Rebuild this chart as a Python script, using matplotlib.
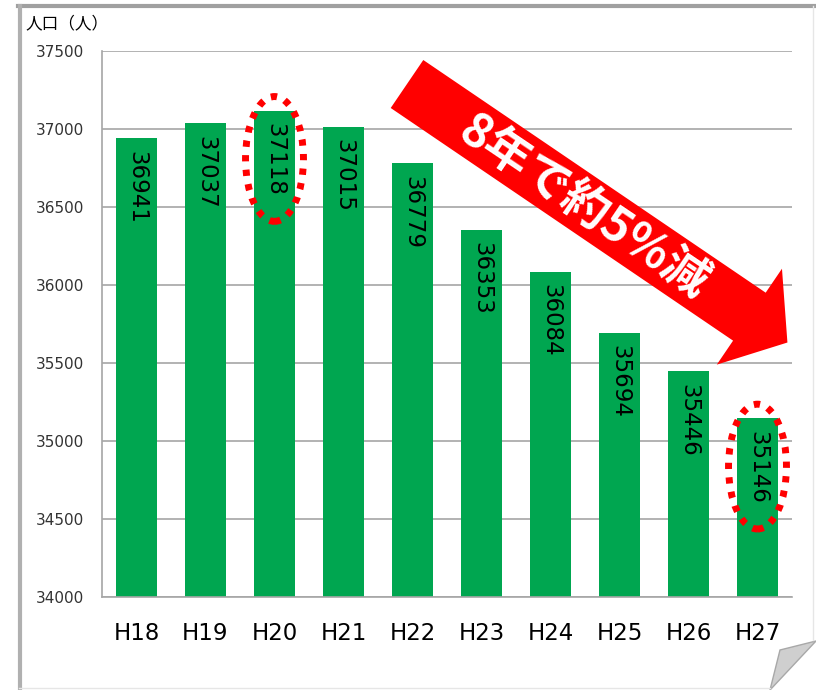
import numpy as np
import matplotlib
matplotlib.use("Agg")
import matplotlib.pyplot as plt
from matplotlib.patches import Ellipse, Polygon
from matplotlib.lines import Line2D

plt.rcParams['font.family'] = ['Noto Sans CJK JP', 'DejaVu Sans']

years = ['H18', 'H19', 'H20', 'H21', 'H22', 'H23', 'H24', 'H25', 'H26', 'H27']
population = [36941, 37037, 37118, 37015, 36779, 36353, 36084, 35694, 35446, 35146]
circled = ['H20', 'H27']
y_ticks = [34000, 34500, 35000, 35500, 36000, 36500, 37000, 37500]
arrow_text = '8年で約5%減'
unit_label = '人口（人）'

W, H = 816, 690
fig = plt.figure(figsize=(W / 100, H / 100), dpi=100)
ax = fig.add_axes([102 / W, 1 - 597 / H, 690 / W, 546 / H])

x = np.arange(len(years))
ax.bar(x, population, width=0.58, color='#00a650', zorder=2)
ax.set_xlim(-0.5, len(years) - 0.5)
ax.set_ylim(y_ticks[0], y_ticks[-1])
ax.set_yticks(y_ticks)
ax.set_yticklabels([str(t) for t in y_ticks], family='DejaVu Sans', fontsize=11)
ax.set_xticks(x)
ax.set_xticklabels(years, family='DejaVu Sans', fontsize=16.5)
ax.tick_params(axis='y', length=0, pad=13, colors='#333333')
ax.tick_params(axis='x', length=0, pad=18)
ax.grid(True, axis='y', color='#a6a6a6', linewidth=1.2)
ax.set_axisbelow(True)
for side in ['top', 'right']:
    ax.spines[side].set_visible(False)
for side in ['left', 'bottom']:
    ax.spines[side].set_color('#a6a6a6')
    ax.spines[side].set_linewidth(1.2)

# value labels inside bars, reading top to bottom
for xi, v in zip(x, population):
    ax.annotate(str(v), (xi, v), xytext=(0, -9), textcoords='offset points',
                rotation=270, ha='center', va='top', fontsize=16.5,
                family='DejaVu Sans', zorder=4)

# red dotted ellipses around chosen labels
for name in circled:
    i = years.index(name)
    e = Ellipse((i, population[i] - 310), 0.84, 800, fill=False,
                edgecolor='#ff0000', linewidth=5, linestyle=(0, (0.9, 1.2)),
                zorder=5)
    ax.add_patch(e)

# big red arrow (figure pixels)
def px(pts):
    return [(a / W, 1 - b / H) for a, b in pts]

d = np.array([0.827, 0.562])
n = np.array([-0.562, 0.827])
tail = np.array([407, 84])
base = tail + 414 * d
tip = tail + 460 * d
pts = [tail - 29 * n, base - 29 * n, base - 58 * n, tip,
       base + 58 * n, base + 29 * n, tail + 29 * n]
fig.patches.append(Polygon(px(pts), closed=True, transform=fig.transFigure,
                           facecolor='#ff0000', edgecolor='none', zorder=6))
fig.text(584 / W, 1 - 207 / H, arrow_text, rotation=-34, rotation_mode='anchor',
         ha='center', va='center', color='white', fontsize=34,
         fontweight='bold', zorder=7)

fig.text(25 / W, 1 - 28 / H, unit_label, fontsize=12, va='baseline', ha='left')

# outer frame with curled corner
frame = [
    ((18, 814), (5.5, 5.5), '#a0a0a0', 3),
    ((19.5, 19.5), (6, 690), '#b0b0b0', 3),
    ((813, 813), (6, 640), '#e6e6e6', 1),
    ((19, 770), (688, 688), '#e6e6e6', 1),
]
for xs, ys, c, lw in frame:
    fig.lines.append(Line2D([a / W for a in xs], [1 - b / H for b in ys],
                            transform=fig.transFigure, color=c, linewidth=lw))
fig.patches.append(Polygon(px([(780, 650), (816, 641), (770, 690)]), closed=True,
                           transform=fig.transFigure, facecolor='#cfcfcf',
                           edgecolor='#a8a8a8', linewidth=1))

fig.savefig('out.png', dpi=100)
